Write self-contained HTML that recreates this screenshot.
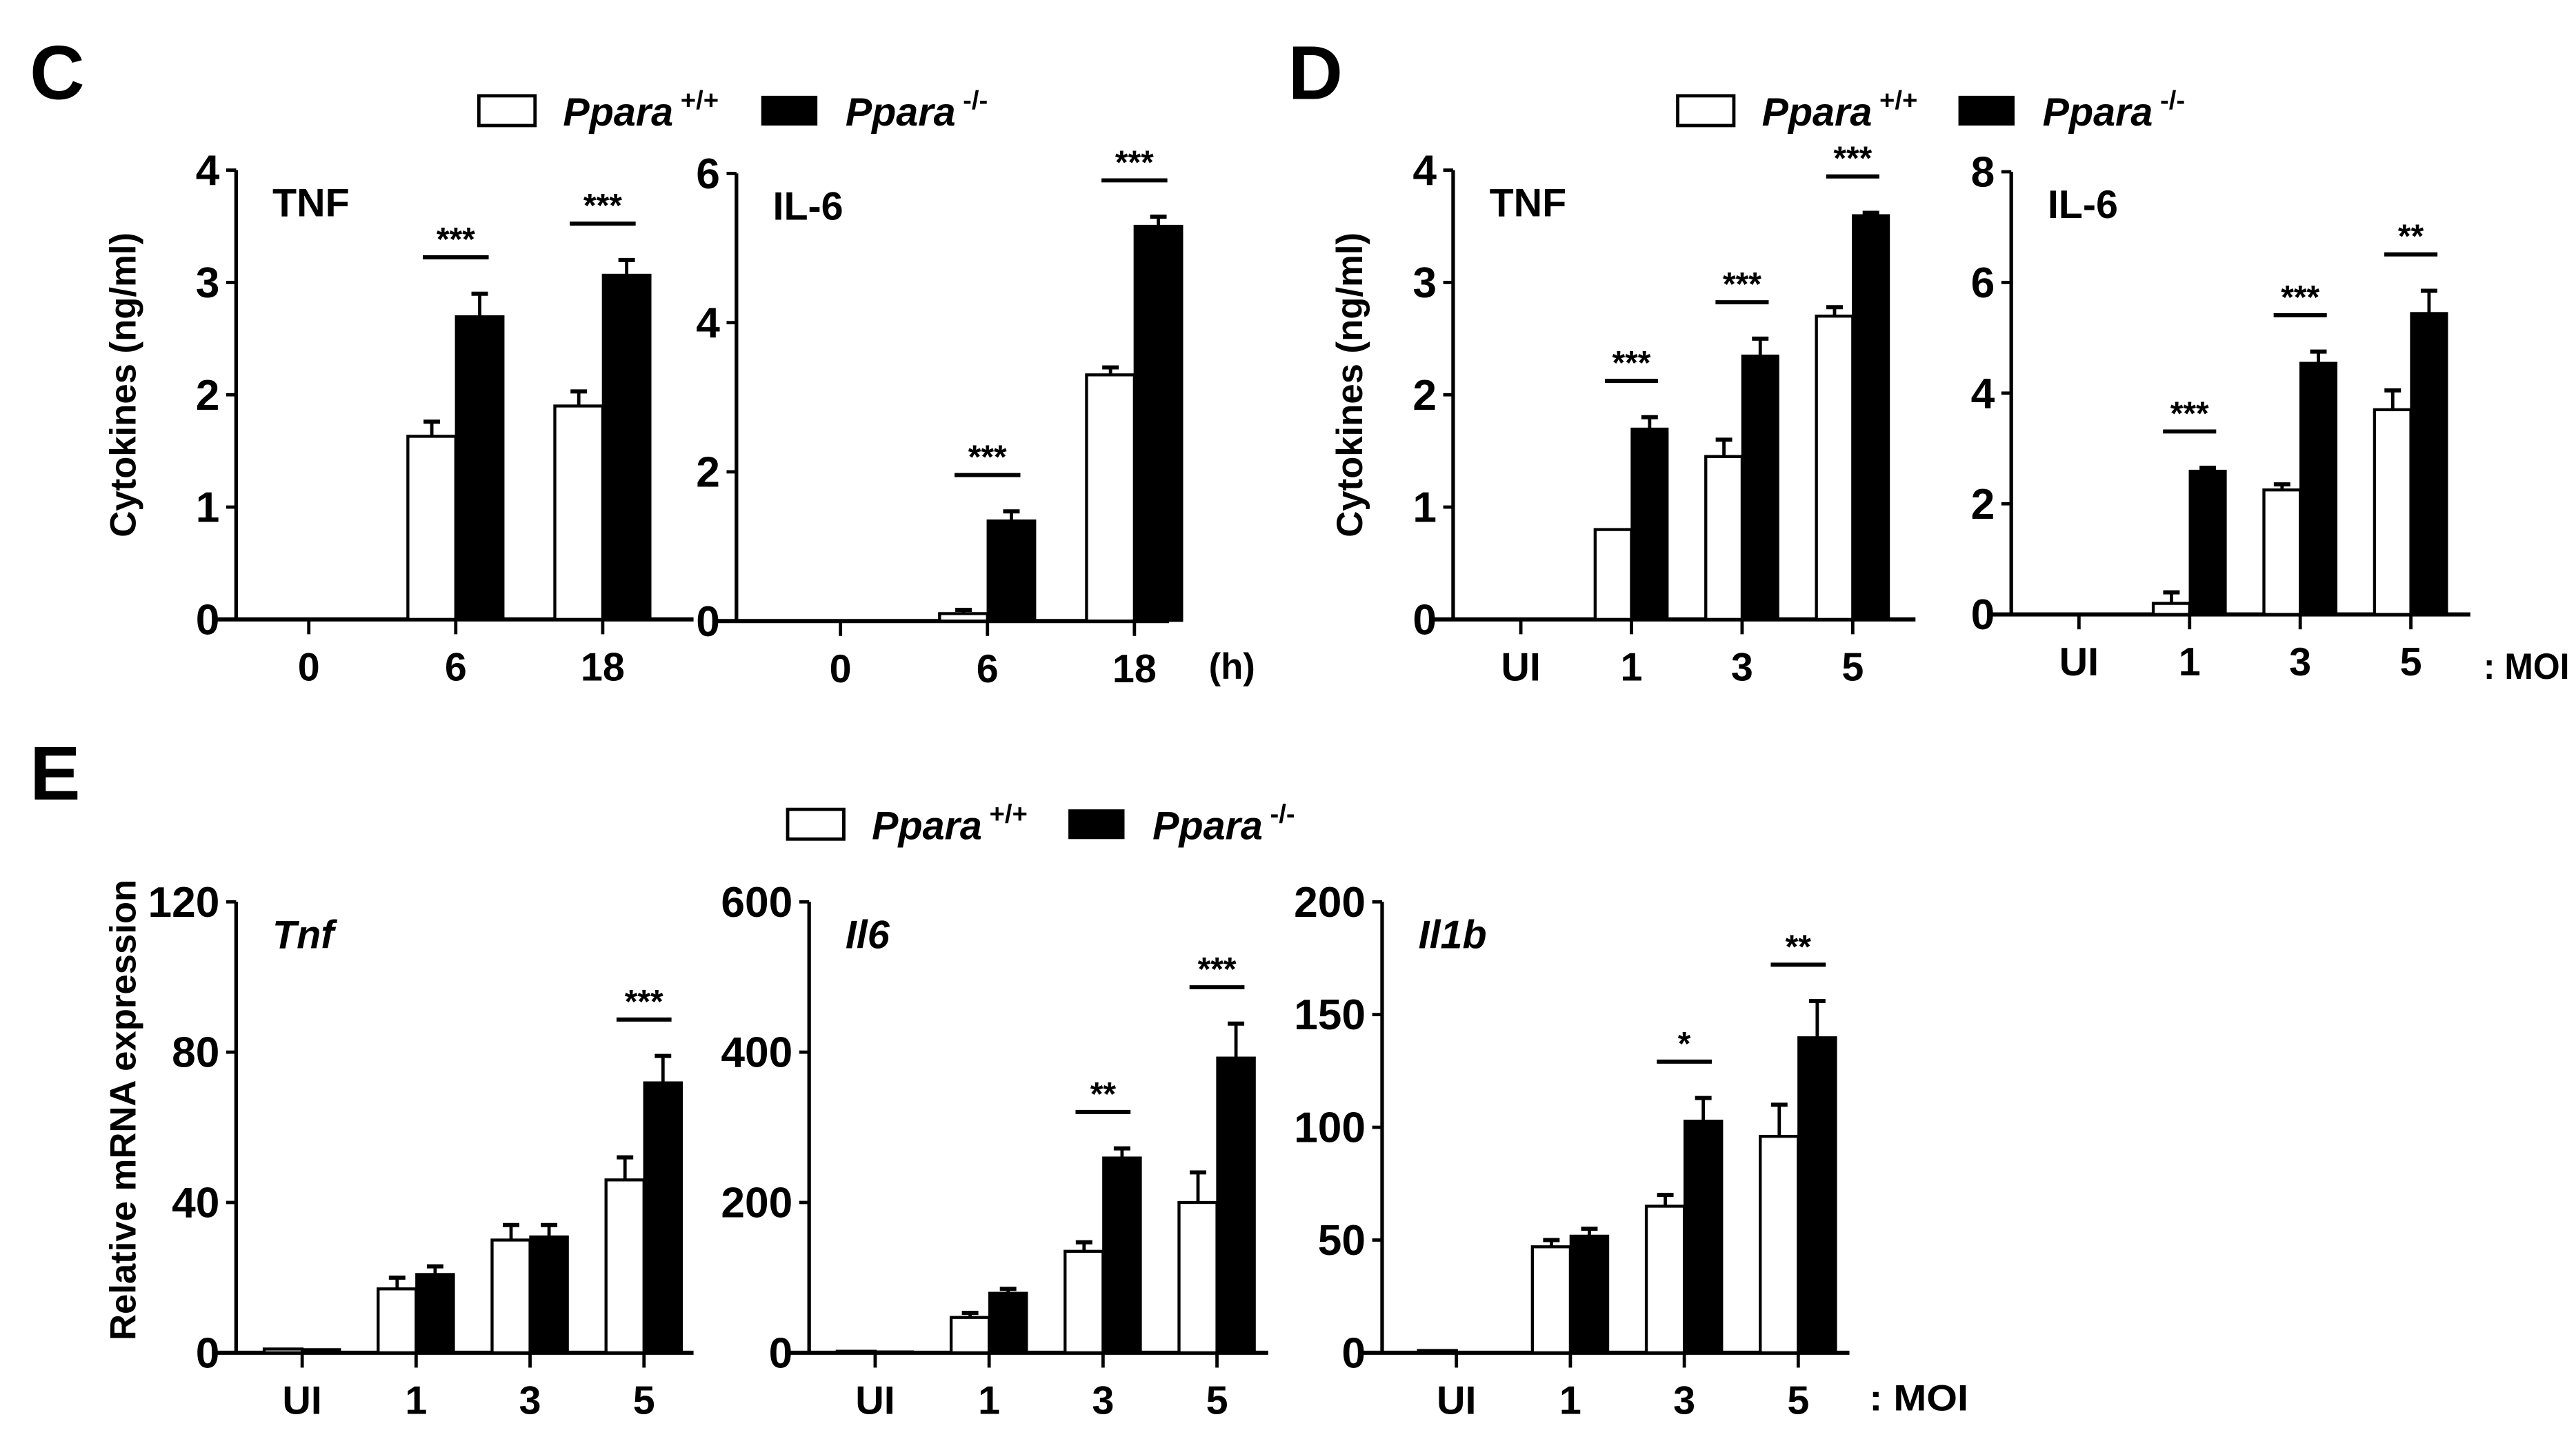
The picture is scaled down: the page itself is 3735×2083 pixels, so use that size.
<!DOCTYPE html>
<html><head><meta charset="utf-8"><style>
html,body{margin:0;padding:0;background:#fff;}
svg{display:block;}
text{font-family:"Liberation Sans Narrow","Liberation Sans",sans-serif;font-weight:bold;fill:#000;}
.w{font-family:"Liberation Sans",sans-serif;}
</style></head><body>
<svg id="fig" width="3735" height="2083" viewBox="0 0 1560 870" preserveAspectRatio="none" xmlns="http://www.w3.org/2000/svg">
<text class="w" x="18" y="60" font-size="46">C</text>
<text class="w" x="780" y="60" font-size="46">D</text>
<text class="w" x="18" y="484" font-size="46">E</text>
<g>
<rect x="290" y="58" width="34" height="18" fill="#fff" stroke="#000" stroke-width="2"/>
<text x="341" y="76" font-size="24" font-style="italic">Ppara<tspan dy="-10" font-size="16" font-style="normal"> +/+</tspan></text>
<rect x="461" y="58" width="34" height="18" fill="#000"/>
<text x="512" y="76" font-size="24" font-style="italic">Ppara<tspan dy="-10" font-size="16" font-style="normal"> -/-</tspan></text>
</g>
<g>
<rect x="1016" y="58" width="34" height="18" fill="#fff" stroke="#000" stroke-width="2"/>
<text x="1067" y="76" font-size="24" font-style="italic">Ppara<tspan dy="-10" font-size="16" font-style="normal"> +/+</tspan></text>
<rect x="1186" y="58" width="34" height="18" fill="#000"/>
<text x="1237" y="76" font-size="24" font-style="italic">Ppara<tspan dy="-10" font-size="16" font-style="normal"> -/-</tspan></text>
</g>
<g>
<rect x="477" y="490" width="34" height="18" fill="#fff" stroke="#000" stroke-width="2"/>
<text x="528" y="508" font-size="24" font-style="italic">Ppara<tspan dy="-10" font-size="16" font-style="normal"> +/+</tspan></text>
<rect x="647" y="490" width="34" height="18" fill="#000"/>
<text x="698" y="508" font-size="24" font-style="italic">Ppara<tspan dy="-10" font-size="16" font-style="normal"> -/-</tspan></text>
</g>
<text class="w" transform="translate(82,233) rotate(-90)" text-anchor="middle" font-size="22">Cytokines (ng/ml)</text>
<text class="w" transform="translate(825,233) rotate(-90)" text-anchor="middle" font-size="22">Cytokines (ng/ml)</text>
<text class="w" transform="translate(82,672) rotate(-90)" text-anchor="middle" font-size="22">Relative mRNA expression</text>
<text x="732" y="411" font-size="22">(h)</text>
<text x="1504" y="411" font-size="22" textLength="52" lengthAdjust="spacingAndGlyphs">: MOI</text>
<text x="1132" y="854" font-size="22" textLength="60" lengthAdjust="spacingAndGlyphs">: MOI</text>
</svg>
<script>
// Panel C TNF
const cTnfCats = ["0","6","18"];
const cTnfWt = [0, 1.63, 1.9];
const cTnfWtErr = [0, 0.13, 0.13];
const cTnfKo = [0, 2.7, 3.07];
const cTnfKoErr = [0, 0.2, 0.13];
const cTnfTicks = [0,1,2,3,4];
const cTnfSig = ["", "***", "***"];
// Panel C IL-6
const cIl6Cats = ["0","6","18"];
const cIl6Wt = [0, 0.1, 3.3];
const cIl6WtErr = [0, 0.05, 0.1];
const cIl6Ko = [0, 1.35, 5.3];
const cIl6KoErr = [0, 0.12, 0.12];
const cIl6Ticks = [0,2,4,6];
const cIl6Sig = ["", "***", "***"];
// Panel D TNF
const dTnfCats = ["UI","1","3","5"];
const dTnfWt = [0, 0.8, 1.45, 2.7];
const dTnfWtErr = [0, 0, 0.15, 0.08];
const dTnfKo = [0, 1.7, 2.35, 3.6];
const dTnfKoErr = [0, 0.1, 0.15, 0.02];
const dTnfTicks = [0,1,2,3,4];
const dTnfSig = ["", "***", "***", "***"];
// Panel D IL-6
const dIl6Cats = ["UI","1","3","5"];
const dIl6Wt = [0, 0.2, 2.25, 3.7];
const dIl6WtErr = [0, 0.2, 0.1, 0.35];
const dIl6Ko = [0, 2.6, 4.55, 5.45];
const dIl6KoErr = [0, 0.05, 0.2, 0.4];
const dIl6Ticks = [0,2,4,6,8];
const dIl6Sig = ["", "***", "***", "**"];
// Panel E Tnf
const eTnfCats = ["UI","1","3","5"];
const eTnfWt = [1, 17, 30, 46];
const eTnfWtErr = [0, 3, 4, 6];
const eTnfKo = [1, 21, 31, 72];
const eTnfKoErr = [0, 2, 3, 7];
const eTnfTicks = [0,40,80,120];
const eTnfSig = ["", "", "", "***"];
// Panel E Il6
const eIl6Cats = ["UI","1","3","5"];
const eIl6Wt = [2, 47, 135, 200];
const eIl6WtErr = [0, 6, 12, 40];
const eIl6Ko = [2, 80, 260, 393];
const eIl6KoErr = [0, 5, 12, 45];
const eIl6Ticks = [0,200,400,600];
const eIl6Sig = ["", "", "**", "***"];
// Panel E Il1b
const eIl1bCats = ["UI","1","3","5"];
const eIl1bWt = [1, 47, 65, 96];
const eIl1bWtErr = [0, 3, 5, 14];
const eIl1bKo = [0.5, 52, 103, 140];
const eIl1bKoErr = [0, 3, 10, 16];
const eIl1bTicks = [0,50,100,150,200];
const eIl1bSig = ["", "", "*", "**"];

const NS = "http://www.w3.org/2000/svg";
const svg = document.getElementById("fig");
function mk(tag, attrs, parent){
  const e = document.createElementNS(NS, tag);
  for (const k in attrs) e.setAttribute(k, attrs[k]);
  (parent||svg).appendChild(e);
  return e;
}
function panel(cfg){
  const g = mk("g", {});
  
  
  const max = cfg.ticks[cfg.ticks.length-1];
  const y = v => cfg.y0 - (v/max)*(cfg.y0-cfg.yTop);
  const step = (cfg.catX[1]-cfg.catX[0]);
  const x = i => cfg.catX[0] + i*step;
  const ya = mk("line", {x1:cfg.ax, x2:cfg.ax, y1:cfg.yTop, y2:cfg.y0, stroke:"#000","stroke-width":2.2}, g);
  
  
  const xa = mk("line", {x1:cfg.ax-12, x2:cfg.xEnd, y1:cfg.y0, y2:cfg.y0, stroke:"#000","stroke-width":2.5}, g);
  
  
  cfg.ticks.forEach(t=>{
    mk("line", {x1:cfg.ax-6, x2:cfg.ax, y1:y(t), y2:y(t), stroke:"#000","stroke-width":2}, g);
    const tx = mk("text", {x:cfg.ax-10, y:y(t)+9, "text-anchor":"end", "font-size":26}, g);
    tx.textContent = t;
    
    
  });
  cfg.cats.forEach((c,i)=>{
    mk("line", {x1:x(i), x2:x(i), y1:cfg.y0, y2:cfg.y0+9, stroke:"#000","stroke-width":2}, g);
    const tx = mk("text", {x:x(i), y:cfg.y0+37, "text-anchor":"middle", "font-size":24}, g);
    tx.textContent = c;
    
    
    const bw = cfg.bw;
    [[cfg.wt[i], cfg.wtErr[i], x(i)-bw/2],[cfg.ko[i], cfg.koErr[i], x(i)+bw/2]].forEach(([v,e,cx])=>{
      if (e>0){
        mk("line",{x1:cx,x2:cx,y1:y(v),y2:y(v+e),stroke:"#000","stroke-width":2},g);
        mk("line",{x1:cx-5,x2:cx+5,y1:y(v+e),y2:y(v+e),stroke:"#000","stroke-width":2.5},g);
      }
    });
    const rw = mk("rect", {x:x(i)-bw, y:y(cfg.wt[i]), width:bw, height:Math.max(0,cfg.y0-y(cfg.wt[i])), fill:"#fff", stroke:"#000","stroke-width":1.8}, g);
    
    
    const rk = mk("rect", {x:x(i), y:y(cfg.ko[i]), width:bw, height:Math.max(0,cfg.y0-y(cfg.ko[i])), fill:"#000", stroke:"#000","stroke-width":1}, g);
    
    
    if (cfg.sig[i]){
      const top = Math.min(y(cfg.ko[i]+cfg.koErr[i]), y(cfg.wt[i]+cfg.wtErr[i]));
      const ly = top - 22;
      mk("line",{x1:x(i)-bw*0.55-4,x2:x(i)+bw*0.55+4,y1:ly,y2:ly,stroke:"#000","stroke-width":2.5},g);
      const st = mk("text",{x:x(i), y:ly-4, "text-anchor":"middle","font-size":20},g);
      st.textContent = cfg.sig[i];
      
      
    }
  });
  const tt = mk("text", {x:cfg.ax+22, y:cfg.yTop+28, "font-size":24, "font-style":cfg.italic?"italic":"normal"}, g);
  tt.textContent = cfg.title;
  
  
}
panel({name:"chart-c-tnf",title:"TNF",ax:143,yTop:103,y0:375,xEnd:420,catX:[187,276],bw:29,cats:cTnfCats,wt:cTnfWt,wtErr:cTnfWtErr,ko:cTnfKo,koErr:cTnfKoErr,ticks:cTnfTicks,sig:cTnfSig});
panel({name:"chart-c-il6",title:"IL-6",ax:446,yTop:105,y0:376,xEnd:708,catX:[509,598],bw:29,cats:cIl6Cats,wt:cIl6Wt,wtErr:cIl6WtErr,ko:cIl6Ko,koErr:cIl6KoErr,ticks:cIl6Ticks,sig:cIl6Sig});
panel({name:"chart-d-tnf",title:"TNF",ax:880,yTop:103,y0:375,xEnd:1160,catX:[921,988],bw:22,cats:dTnfCats,wt:dTnfWt,wtErr:dTnfWtErr,ko:dTnfKo,koErr:dTnfKoErr,ticks:dTnfTicks,sig:dTnfSig});
panel({name:"chart-d-il6",title:"IL-6",ax:1218,yTop:104,y0:372,xEnd:1496,catX:[1259,1326],bw:22,cats:dIl6Cats,wt:dIl6Wt,wtErr:dIl6WtErr,ko:dIl6Ko,koErr:dIl6KoErr,ticks:dIl6Ticks,sig:dIl6Sig});
panel({name:"chart-e-tnf",title:"Tnf",italic:true,ax:143,yTop:546,y0:819,xEnd:420,catX:[183,252],bw:23,cats:eTnfCats,wt:eTnfWt,wtErr:eTnfWtErr,ko:eTnfKo,koErr:eTnfKoErr,ticks:eTnfTicks,sig:eTnfSig});
panel({name:"chart-e-il6",title:"Il6",italic:true,ax:490,yTop:546,y0:819,xEnd:768,catX:[530,599],bw:23,cats:eIl6Cats,wt:eIl6Wt,wtErr:eIl6WtErr,ko:eIl6Ko,koErr:eIl6KoErr,ticks:eIl6Ticks,sig:eIl6Sig});
panel({name:"chart-e-il1b",title:"Il1b",italic:true,ax:837,yTop:546,y0:819,xEnd:1120,catX:[882,951],bw:23,cats:eIl1bCats,wt:eIl1bWt,wtErr:eIl1bWtErr,ko:eIl1bKo,koErr:eIl1bKoErr,ticks:eIl1bTicks,sig:eIl1bSig});
</script>
</body></html>
